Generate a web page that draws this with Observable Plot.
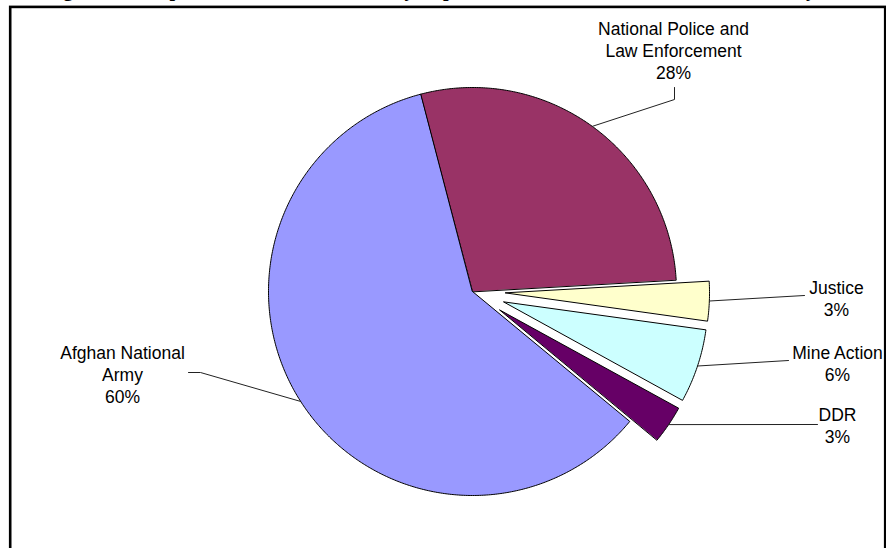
<!DOCTYPE html>
<html>
<head>
<meta charset="utf-8">
<script src="https://cdn.jsdelivr.net/npm/d3@7"></script>
<script src="https://cdn.jsdelivr.net/npm/@observablehq/plot@0.6"></script>
<style>
  html, body { margin: 0; padding: 0; background: #fff; }
  #chart svg { display: block; }
</style>
</head>
<body>
<div id="chart"></div>
<script>
// ---- data ----
const sectors = ["National Police and Law Enforcement", "Justice", "Mine Action", "DDR", "Afghan National Army"];
const labelNames = ["National Police and\nLaw Enforcement", "Justice", "Mine Action", "DDR", "Afghan National\nArmy"];
const shares = [28.2, 3.1, 5.8, 3.0, 59.9];
const exploded = [false, true, true, true, false];
const colors = ["#993366", "#FFFFCC", "#CCFFFF", "#660066", "#9999FF"];
const titleText = "Figure 4: Composition of External Security Expenditure 2002/03, 2003/04, and 2004/05, by Sector";

// ---- layout ----
const W = 886, H = 548, CX = 472, CY = 291, R = 204;
const startAngle = -14.8;      // degrees clockwise from 12 o'clock
const explodeDist = 0.162;     // in radius units
const P = (px, py) => ({x: (px - CX) / R, y: (CY - py) / R});
// label anchor (center x, last baseline) and leader-line waypoints (from label towards slice)
const labelLayout = [
  {text: P(673, 78), via: [P(674, 87), P(674, 99)]},
  {text: P(836, 315), via: [P(804, 295)]},
  {text: P(837, 380), via: [P(788, 360)]},
  {text: P(837, 442), via: [P(817, 424)]},
  {text: P(122, 402), via: [P(188, 372), P(200, 372)]}
];

const rad = (a) => a * Math.PI / 180;
let acc = startAngle;
const slices = shares.map((s, i) => {
  const a0 = acc, a1 = acc + s * 3.6;
  acc = a1;
  const mid = (a0 + a1) / 2;
  const ox = exploded[i] ? explodeDist * Math.sin(rad(mid)) : 0;
  const oy = exploded[i] ? explodeDist * Math.cos(rad(mid)) : 0;
  return {i, name: sectors[i], a0, a1, mid, ox, oy};
});

const slicePts = [];
for (const sl of slices) {
  slicePts.push({name: sl.name, x: sl.ox, y: sl.oy});
  const n = Math.max(2, Math.ceil((sl.a1 - sl.a0) / 0.5));
  for (let k = 0; k <= n; k++) {
    const a = rad(sl.a0 + (sl.a1 - sl.a0) * k / n);
    slicePts.push({name: sl.name, x: sl.ox + Math.sin(a), y: sl.oy + Math.cos(a)});
  }
}

const leaderPts = [];
const labels = [];
slices.forEach((sl, i) => {
  const L = labelLayout[i];
  for (const p of L.via) leaderPts.push({name: sl.name, x: p.x, y: p.y});
  leaderPts.push({name: sl.name, x: sl.ox + Math.sin(rad(sl.mid)), y: sl.oy + Math.cos(rad(sl.mid))});
  labels.push({name: sl.name, x: L.text.x, y: L.text.y,
    label: labelNames[i] + "\n" + Math.round(shares[i]) + "%"});
});

const chart = Plot.plot({
  width: W,
  height: H,
  margin: 0,
  style: {background: "#fff", overflow: "visible"},
  x: {domain: [-CX / R, (W - CX) / R], axis: null},
  y: {domain: [(CY - H) / R, CY / R], axis: null},
  color: {domain: sectors, range: colors},
  marks: [
    Plot.frame({stroke: "#000", strokeWidth: 2.6, insetLeft: 9.7, insetTop: 6.4, insetRight: 1.3, insetBottom: -20}),
    Plot.text([titleText], {frameAnchor: "top-left", dx: 45, dy: -5, lineAnchor: "bottom", textAnchor: "start",
      fontFamily: "Liberation Serif, Times New Roman, serif", fontWeight: "bold", fontSize: 20, fill: "#000"}),
    Plot.line(slicePts, {x: "x", y: "y", z: "name", fill: "name", stroke: "#000", strokeWidth: 1,
      strokeLinejoin: "miter", curve: "linear-closed"}),
    Plot.line(leaderPts, {x: "x", y: "y", z: "name", stroke: "#222", strokeWidth: 1, strokeLinejoin: "miter"}),
    Plot.text(labels, {x: "x", y: "y", text: "label", lineAnchor: "bottom", textAnchor: "middle",
      fontFamily: "Liberation Sans, Arial, sans-serif", fontSize: 17.5, lineHeight: 1.257, fill: "#000"})
  ]
});
document.getElementById("chart").appendChild(chart);
</script>
</body>
</html>
